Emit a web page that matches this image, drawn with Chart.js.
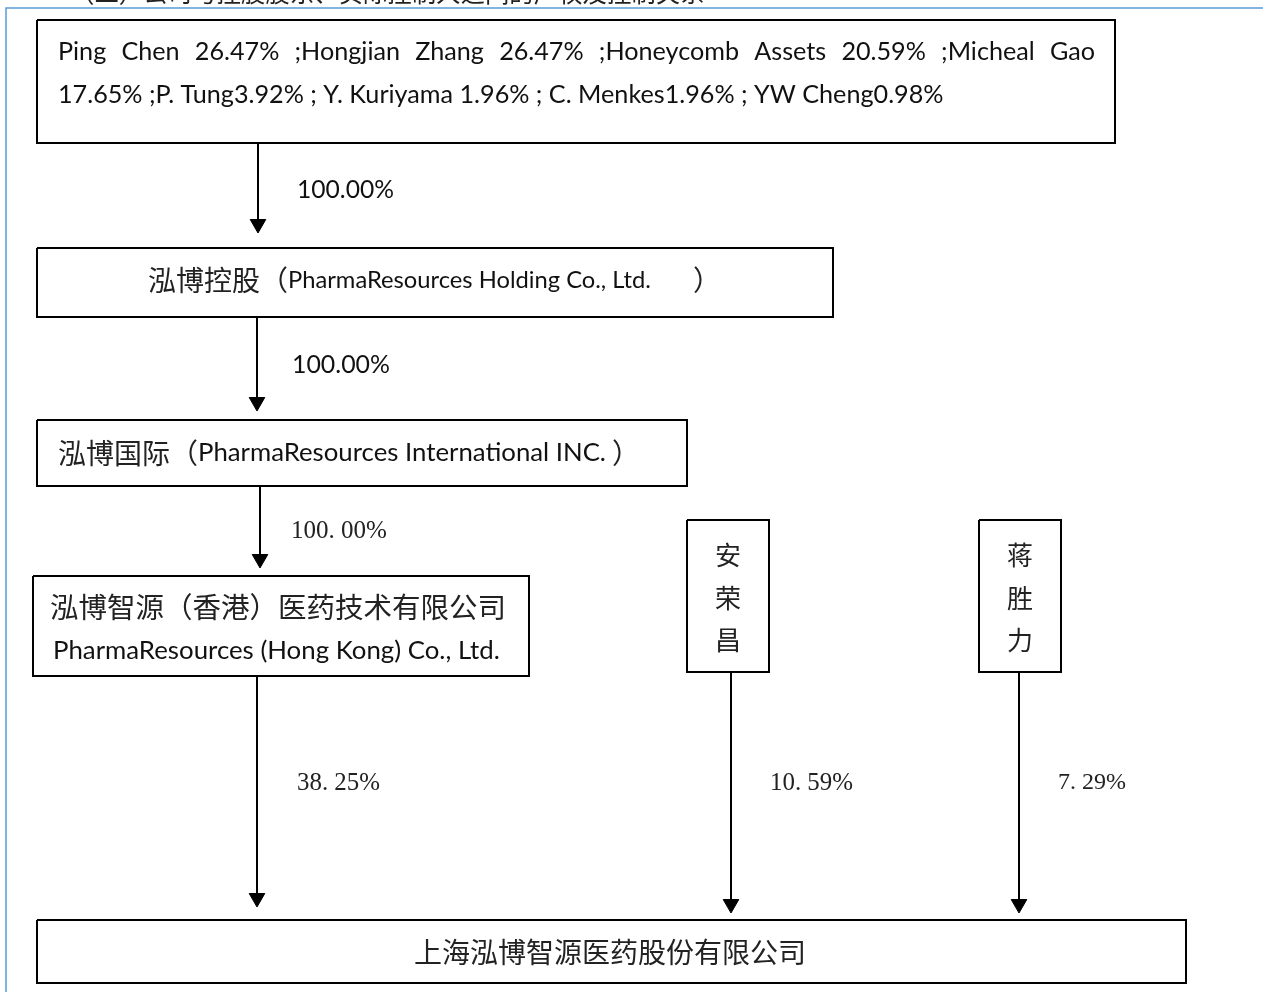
<!DOCTYPE html>
<html lang="zh">
<head>
    <meta charset="UTF-8">
    <title>股权结构图</title>
    <script src="https://cdn.jsdelivr.net/npm/chart.js"></script>
    <style>
        body { margin: 0; background: #fff; }
        canvas { display: block; }
    </style>
</head>
<body>
<canvas id="myChart" width="1263" height="992"></canvas>

<script>
    // ---- data: the ownership structure ----
    const shareholders = 'Ping Chen 26.47% ;Hongjian Zhang 26.47% ;Honeycomb Assets 20.59% ;Micheal Gao';
    const shareholders2 = '17.65% ;P. Tung3.92% ; Y. Kuriyama 1.96% ; C. Menkes1.96% ; YW Cheng0.98%';
    const holdingName = ['泓博控股（', 'PharmaResources Holding Co., Ltd. ', '）'];
    const intlName = ['泓博国际（', 'PharmaResources International INC.', '）'];
    const hkNameCn = '泓博智源（香港）医药技术有限公司';
    const hkNameEn = 'PharmaResources (Hong Kong) Co., Ltd.';
    const personA = ['安', '荣', '昌'];
    const personB = ['蒋', '胜', '力'];
    const targetName = '上海泓博智源医药股份有限公司';
    const stakeLabels = ['100.00%', '100.00%', '100. 00%', '38. 25%', '10. 59%', '7. 29%'];
    const headerText = '（二）公司与控股股东、实际控制人之间的产权及控制关系';

    // ---- layout of the diagram (in chart units, 1 unit = 1px) ----
    const boxes = [
        [37, 20, 1115, 143],
        [37, 248, 833, 317],
        [37, 420, 687, 486],
        [33, 576, 529, 676],
        [687, 520, 769, 672],
        [979, 520, 1061, 672],
        [37, 920, 1186, 983]
    ];
    // x, from y, arrow tip y
    const arrows = [
        [258, 143, 233],
        [257, 317, 411],
        [260, 486, 568],
        [257, 676, 907],
        [731, 672, 913],
        [1019, 672, 913]
    ];
    // label x, y, width, font kind
    const labelPos = [[297, 190, 97, 'sans'], [292, 365, 98, 'sans'], [291, 531, 96, 'serif'],
                      [297, 783, 83, 'serif'], [770, 783, 83, 'serif'], [1058, 783, 68, 'serif']];

    const LATIN = 'Lato, "Open Sans", sans-serif';
    const CJK = '"Noto Sans CJK SC", sans-serif';
    const SERIF = '"Liberation Serif", "DejaVu Serif", serif';
    const HEAD = 9;

    const datasets = [];
    // page frame (blue rule lines)
    datasets.push({
        data: [{x: 1263, y: 8}, {x: 6, y: 8}, {x: 6, y: 992}],
        showLine: true, borderColor: '#5b9bd5', borderWidth: 1.5, pointRadius: 0
    });
    boxes.forEach(b => {
        datasets.push({
            data: [{x: b[0], y: b[1]}, {x: b[2], y: b[1]}, {x: b[2], y: b[3]}, {x: b[0], y: b[3]}, {x: b[0], y: b[1]}],
            showLine: true, borderColor: '#000', borderWidth: 2, pointRadius: 0,
            borderJoinStyle: 'miter', fill: false
        });
    });
    arrows.forEach(a => {
        datasets.push({
            data: [{x: a[0], y: a[1]}, {x: a[0], y: a[2] - HEAD}],
            showLine: true, borderColor: '#000', borderWidth: 2, pointRadius: 0
        });
    });
    datasets.push({
        data: arrows.map(a => ({x: a[0], y: a[2] - HEAD})),
        showLine: false, pointStyle: 'triangle', rotation: 180, pointRadius: HEAD,
        backgroundColor: '#000', borderColor: '#000', borderWidth: 1
    });

    function fitSize(ctx, text, family, width) {
        ctx.font = '100px ' + family;
        return 100 * width / ctx.measureText(text).width;
    }

    const textPlugin = {
        id: 'texts',
        afterDatasetsDraw(chart) {
            const ctx = chart.ctx;
            const sx = v => chart.scales.x.getPixelForValue(v);
            const sy = v => chart.scales.y.getPixelForValue(v);
            ctx.save();
            ctx.textAlign = 'left';

            // clipped header text at top of the page
            ctx.fillStyle = '#222';
            ctx.font = fitSize(ctx, headerText, CJK, 635) + 'px ' + CJK;
            ctx.textBaseline = 'alphabetic';
            ctx.fillText(headerText, sx(70), sy(2));
            ctx.textBaseline = 'middle';

            // top box, justified first line
            ctx.fillStyle = '#111';
            const s1 = fitSize(ctx, shareholders2, LATIN, 886);
            ctx.font = s1 + 'px ' + LATIN;
            const words = shareholders.split(' ');
            const wordsW = words.reduce((t, w) => t + ctx.measureText(w).width, 0);
            const gap = (1095 - 58 - wordsW) / (words.length - 1);
            let cx = 58;
            words.forEach(w => {
                ctx.fillText(w, sx(cx), sy(52));
                cx += ctx.measureText(w).width + gap;
            });
            ctx.fillText(shareholders2, sx(58), sy(95));

            // holding / international boxes
            const drawName = (parts, x0, enW, y, after) => {
                ctx.fillStyle = '#222';
                ctx.font = '28px ' + CJK;
                ctx.fillText(parts[0], sx(x0), sy(y));
                const enX = x0 + ctx.measureText(parts[0]).width;
                ctx.fillStyle = '#111';
                ctx.font = fitSize(ctx, parts[1].trim(), LATIN, enW) + 'px ' + LATIN;
                ctx.fillText(parts[1], sx(enX), sy(y));
                ctx.fillStyle = '#222';
                ctx.font = '28px ' + CJK;
                ctx.fillText(parts[2], sx(enX + enW + after), sy(y));
            };
            drawName(holdingName, 148, 363, 280, 42);
            drawName(intlName, 58, 408, 453, 6);

            // HK subsidiary
            ctx.fillStyle = '#222';
            ctx.font = fitSize(ctx, hkNameCn, CJK, 456) + 'px ' + CJK;
            ctx.fillText(hkNameCn, sx(50), sy(607));
            ctx.fillStyle = '#111';
            ctx.font = fitSize(ctx, hkNameEn, LATIN, 447) + 'px ' + LATIN;
            ctx.fillText(hkNameEn, sx(53), sy(651));

            // individual holders, vertical text
            ctx.fillStyle = '#222';
            ctx.textAlign = 'center';
            ctx.font = '26px ' + CJK;
            const rows = [555, 598, 640];
            personA.forEach((c, i) => ctx.fillText(c, sx(728), sy(rows[i])));
            personB.forEach((c, i) => ctx.fillText(c, sx(1020), sy(rows[i])));

            // target company
            ctx.font = '28px ' + CJK;
            ctx.fillText(targetName, sx(610), sy(952));

            // stake labels
            ctx.textAlign = 'left';
            stakeLabels.forEach((t, i) => {
                const [lx, ly, w, kind] = labelPos[i];
                const fam = kind === 'sans' ? LATIN : SERIF;
                ctx.fillStyle = kind === 'sans' ? '#111' : '#222';
                ctx.font = fitSize(ctx, t, fam, w) + 'px ' + fam;
                ctx.fillText(t, sx(lx), sy(ly));
            });
            ctx.restore();
        }
    };

    const ctx = document.getElementById('myChart').getContext('2d');
    window.myChart = new Chart(ctx, {
        type: 'scatter',
        data: { datasets: datasets },
        options: {
            responsive: false,
            animation: false,
            devicePixelRatio: 1,
            layout: { padding: 0, autoPadding: false },
            plugins: { legend: { display: false }, tooltip: { enabled: false } },
            scales: {
                x: { type: 'linear', min: 0, max: 1263, display: false },
                y: { type: 'linear', min: 0, max: 992, reverse: true, display: false }
            },
            elements: { line: { tension: 0 } }
        },
        plugins: [textPlugin]
    });
</script>
</body>
</html>
